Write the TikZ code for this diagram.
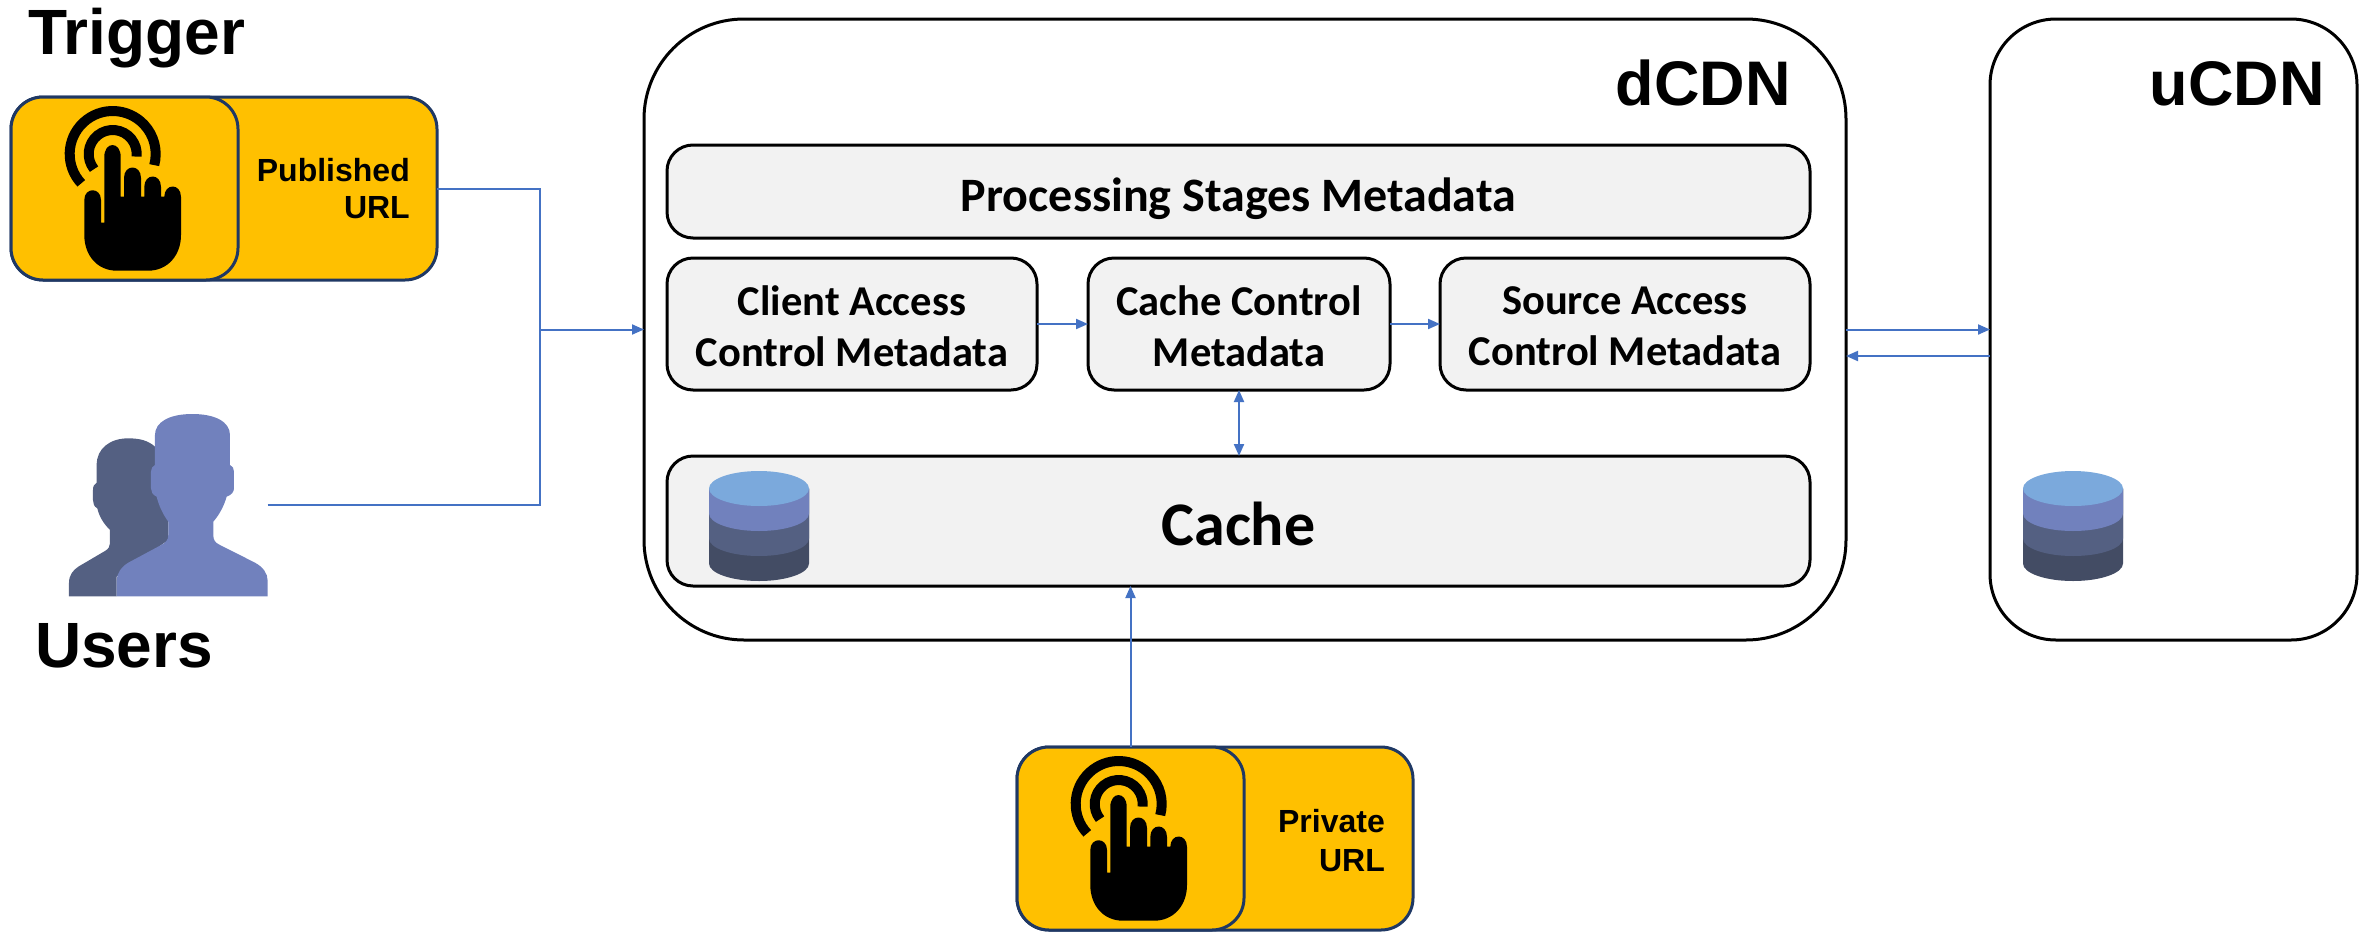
\documentclass[tikz,border=0pt]{standalone}
\usepackage{fontspec}
\setmainfont{Liberation Sans}
\newfontfamily\calib{Carlito}
\usetikzlibrary{arrows.meta}
\definecolor{gold}{HTML}{FFC000}
\definecolor{navy}{HTML}{1F3864}
\definecolor{linkblue}{HTML}{4472C4}
\definecolor{boxgrey}{HTML}{F2F2F2}
\definecolor{dbtop}{HTML}{7BA9DC}
\definecolor{slatea}{HTML}{7181BD}
\definecolor{slateb}{HTML}{546082}
\definecolor{slatec}{HTML}{434C64}
\tikzset{
  x=1pt,y=1pt,
  pane/.style={draw=black,line width=3pt,rounded corners=#1,outer sep=0pt,inner sep=0pt},
  cloudbox/.style={pane=#1,fill=white},
  metabox/.style={pane=26pt,fill=boxgrey},
  metatext/.style={align=center,inner sep=0pt,font=\calib\bfseries\fontsize{42.5}{51}\selectfont},
  goldbox/.style={draw=navy,fill=gold,line width=3pt,rounded corners=32pt,outer sep=0pt,inner sep=0pt},
  heading/.style={font=\bfseries\fontsize{64}{70}\selectfont,inner sep=0pt,anchor=base west},
  cdnheading/.style={font=\bfseries\fontsize{63}{70}\selectfont,inner sep=0pt,anchor=base east},
  goldlabel/.style={font=\bfseries\fontsize{32}{37}\selectfont,inner sep=0pt,anchor=base east},
  link/.style={draw=linkblue,line width=2pt},
  arrowed/.style={link,-{Triangle[length=12pt,width=10pt]}},
  twoway/.style={link,{Triangle[length=12pt,width=10pt]}-{Triangle[length=12pt,width=10pt]}},
  handicon/.pic={
    \begin{scope}[line width=10pt,draw=black]
      \draw (112.7,-154)++(223:43pt) arc[start angle=223,end angle=-15,radius=43pt];
      \draw (112.7,-154)++(219:24pt) arc[start angle=219,end angle=-6,radius=24pt];
    \end{scope}
    \fill[black] (84.3,-200) .. controls (84.3,-187) and (101,-187) .. (101,-200)
      -- (101,-222.7) -- (104.3,-222.7) -- (104.3,-157)
      .. controls (104.3,-141) and (120.7,-141) .. (120.7,-157)
      -- (120.7,-196.7) -- (124,-196.7) -- (124,-178)
      .. controls (124,-164) and (141,-164) .. (141,-178)
      -- (141,-196.7) -- (144.3,-196.7) -- (144.3,-187)
      .. controls (144.3,-173) and (161,-173) .. (161,-187)
      -- (161,-196.7) -- (164.3,-196.7) -- (164.3,-197)
      .. controls (164.3,-183) and (181,-183) .. (181,-197)
      -- (181,-235) .. controls (181,-255) and (168,-270.7) .. (148,-270.7)
      -- (117,-270.7) .. controls (97,-270.7) and (84.3,-255) .. (84.3,-235) -- cycle;
  },
  dbicon/.pic={
    \fill[slatec] (0,0) -- (0,-75) arc[start angle=180,end angle=360,x radius=50pt,y radius=17.5pt] -- (100,0) -- cycle;
    \fill[slateb] (0,0) -- (0,-50) arc[start angle=180,end angle=360,x radius=50pt,y radius=17.5pt] -- (100,0) -- cycle;
    \fill[slatea] (0,0) -- (0,-25) arc[start angle=180,end angle=360,x radius=50pt,y radius=17.5pt] -- (100,0) -- cycle;
    \fill[dbtop] (50,0) ellipse[x radius=50pt,y radius=17.5pt];
  },
}
\begin{document}
\begin{tikzpicture}
\useasboundingbox (0,0) rectangle (2367,-932);

% large CDN containers
\node[cloudbox=100pt,minimum width=1202pt,minimum height=621pt] (dcdn) at (1245,-329.5) {};
\node[cloudbox=66pt,minimum width=367pt,minimum height=621pt] (ucdn) at (2173.5,-329.5) {};
\node[cdnheading] (dlabel) at (1791,-105) {dCDN};
\node[cdnheading] (ulabel) at (2325,-105) {uCDN};

% metadata boxes
\node[metabox,minimum width=1143pt,minimum height=93pt] (proc) at (1238.5,-191.5) {};
\node[metabox,minimum width=370pt,minimum height=132pt] (client) at (852,-324) {};
\node[metabox,minimum width=302pt,minimum height=132pt] (cachectl) at (1239,-324) {};
\node[metabox,minimum width=370pt,minimum height=132pt] (source) at (1625,-324) {};
\node[metabox,minimum width=1143pt,minimum height=130pt] (cache) at (1238.5,-521) {};
\node[metatext,font=\calib\bfseries\fontsize{48}{52}\selectfont] (proctext) at ([yshift=-7pt]proc.center) {Processing Stages Metadata};
\node[metatext] (clienttext) at ([yshift=-2pt]client.center) {Client Access\\Control Metadata};
\node[metatext] (cachectltext) at ([yshift=-2pt]cachectl.center) {Cache Control\\Metadata};
\node[metatext] (sourcetext) at ([yshift=-2pt]source.center) {Source Access\\Control Metadata};
\node[metatext,font=\calib\bfseries\fontsize{62}{70}\selectfont] (cachetext) at ([yshift=-3pt]cache.center) {Cache};
\pic at (709,-488.5) {dbicon};
\pic at (2023,-488.5) {dbicon};

% trigger boxes
\node[goldbox,minimum width=426pt,minimum height=183pt] (pub) at (224,-188.5) {};
\node[goldbox,minimum width=227pt,minimum height=183pt] (pubicon) at (124.5,-188.5) {};
\pic at (0,0) {handicon};
\node[goldlabel] (publabel) at (410,-181) {Published};
\node[goldlabel] (publabelb) at (410,-218) {URL};
\node[heading] (trigger) at (28,-54) {Trigger};

\node[goldbox,minimum width=396pt,minimum height=183pt] (priv) at (1215,-838.5) {};
\node[goldbox,minimum width=227pt,minimum height=183pt] (privicon) at (1130.5,-838.5) {};
\pic at (1006,-650) {handicon};
\node[goldlabel] (privlabel) at (1385,-832) {Private};
\node[goldlabel] (privlabelb) at (1385,-871) {URL};

% users silhouette
\node[minimum width=199pt,minimum height=184pt,inner sep=0pt,outer sep=0pt] (users) at (168,-505) {};
\begin{scope}[shift={(0,-390)},x=0.3333pt,y=-0.3333pt]
  \fill[slateb] (207,619) -- (207,578) .. controls (207,555) and (220,540) .. (235,530)
    -- (315,483) .. controls (325,477) and (330,470) .. (330,460) -- (330,420)
    .. controls (310,400) and (298,380) .. (292,355) .. controls (282,350) and (279,340) .. (279,330)
    -- (279,300) .. controls (279,288) and (283,282) .. (290,278) -- (290,225)
    .. controls (290,175) and (330,145) .. (385,145) .. controls (420,145) and (445,152) .. (465,170)
    -- (505,395) -- (505,450) -- (350,560) -- (350,619) -- cycle;
  \fill[slatea] (350,619) -- (350,572) .. controls (350,550) and (365,530) .. (385,518)
    -- (480,467) .. controls (498,458) and (505,450) .. (505,435) -- (505,395)
    .. controls (488,372) and (476,345) .. (470,320) .. controls (458,315) and (453,305) .. (453,295)
    -- (453,245) .. controls (453,235) and (458,228) .. (465,225) -- (465,135)
    .. controls (465,95) and (510,72) .. (577,72) .. controls (645,72) and (690,95) .. (690,135)
    -- (690,225) .. controls (698,228) and (702,235) .. (702,245) -- (702,295)
    .. controls (702,305) and (695,315) .. (680,320) .. controls (673,345) and (660,372) .. (640,395)
    -- (640,435) .. controls (640,450) and (645,458) .. (660,465) -- (765,518)
    .. controls (790,532) and (803,550) .. (803,572) -- (803,619) -- cycle;
\end{scope}
\node[heading] (userlabel) at (35,-667) {Users};

% connectors
\coordinate (join) at (540,-329.5);
\draw[link] (pub.east) -| (join);
\draw[link] (users.east) -| (join);
\draw[arrowed] (join) -- (dcdn.west);
\draw[arrowed] (client.east) -- (cachectl.west);
\draw[arrowed] (cachectl.east) -- (source.west);
\draw[twoway] (cachectl.south) -- (cachectl.south |- cache.north);
\draw[arrowed] (privicon.north) -- (privicon.north |- cache.south);
\draw[arrowed] (dcdn.east) -- (ucdn.west);
\coordinate (back) at (1920,-356);
\draw[arrowed] (ucdn.west |- back) -- (dcdn.east |- back);
\end{tikzpicture}
\end{document}
